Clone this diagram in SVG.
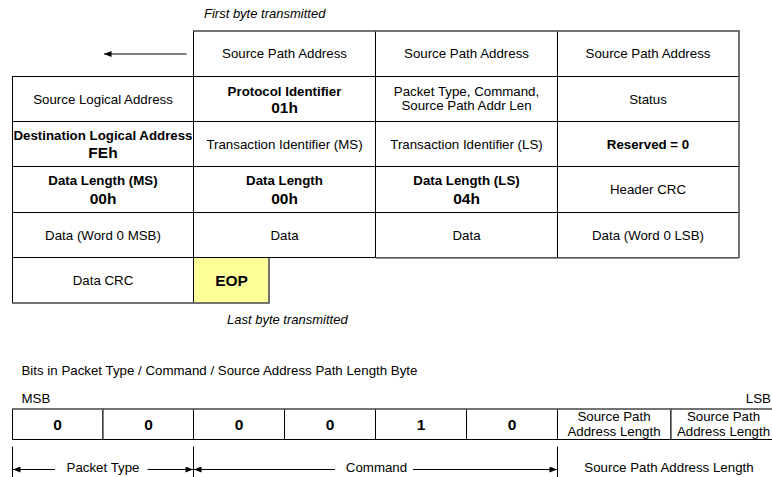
<svg xmlns="http://www.w3.org/2000/svg" width="772" height="477" viewBox="0 0 772 477">
  <style>
    text { font-family: "Liberation Sans", Arial, sans-serif; font-size: 13.3px; fill: #000; }
    .c { text-anchor: middle; }
    .b { font-weight: bold; }
    .big { font-weight: bold; font-size: 15.5px; }
    .it { font-style: italic; font-size: 13px; }
    .cell { fill: #fff; stroke: #000; stroke-width: 1; }
    .edge { fill: none; stroke: #707070; stroke-width: 1.6; }
    .line { fill: none; stroke: #000; stroke-width: 1; }
  </style>
  <defs>
    <marker id="arrow" viewBox="0 0 10 8" refX="10" refY="4" markerWidth="8" markerHeight="6" markerUnits="userSpaceOnUse" orient="auto-start-reverse">
      <path d="M0,0 L10,4 L0,8 Z" fill="#000"/>
    </marker>
  </defs>

  <rect width="772" height="477" fill="#fff"/>

  <text class="it" x="204" y="18">First byte transmitted</text>

  <!-- packet layout: four bytes per row -->
  <g id="r1c2"><rect class="cell" x="193.5" y="31" width="182" height="45.5"/><text class="c" x="284.5" y="58">Source Path Address</text></g>
  <g id="r1c3"><rect class="cell" x="375.5" y="31" width="182" height="45.5"/><text class="c" x="466.5" y="58">Source Path Address</text></g>
  <g id="r1c4"><rect class="cell" x="557.5" y="31" width="181.5" height="45.5"/><text class="c" x="648" y="58">Source Path Address</text></g>

  <g id="r2c1"><rect class="cell" x="12.5" y="76.5" width="181" height="45"/><text class="c" x="103" y="103.5">Source Logical Address</text></g>
  <g id="r2c2"><rect class="cell" x="193.5" y="76.5" width="182" height="45"/><text class="c b" x="284.5" y="96">Protocol Identifier</text><text class="c big" x="284.5" y="113">01h</text></g>
  <g id="r2c3"><rect class="cell" x="375.5" y="76.5" width="182" height="45"/><text class="c" x="466.5" y="96">Packet Type, Command,</text><text class="c" x="466.5" y="109.5">Source Path Addr Len</text></g>
  <g id="r2c4"><rect class="cell" x="557.5" y="76.5" width="181.5" height="45"/><text class="c" x="648" y="103.5">Status</text></g>

  <g id="r3c1"><rect class="cell" x="12.5" y="121.5" width="181" height="45"/><text class="c b" x="103" y="140">Destination Logical Address</text><text class="c big" x="103" y="157.5">FEh</text></g>
  <g id="r3c2"><rect class="cell" x="193.5" y="121.5" width="182" height="45"/><text class="c" x="284.5" y="148.5">Transaction Identifier (MS)</text></g>
  <g id="r3c3"><rect class="cell" x="375.5" y="121.5" width="182" height="45"/><text class="c" x="466.5" y="148.5">Transaction Identifier (LS)</text></g>
  <g id="r3c4"><rect class="cell" x="557.5" y="121.5" width="181.5" height="45"/><text class="c b" x="648" y="148.5">Reserved = 0</text></g>

  <g id="r4c1"><rect class="cell" x="12.5" y="166.5" width="181" height="46"/><text class="c b" x="103" y="185">Data Length (MS)</text><text class="c big" x="103" y="204">00h</text></g>
  <g id="r4c2"><rect class="cell" x="193.5" y="166.5" width="182" height="46"/><text class="c b" x="284.5" y="185">Data Length</text><text class="c big" x="284.5" y="204">00h</text></g>
  <g id="r4c3"><rect class="cell" x="375.5" y="166.5" width="182" height="46"/><text class="c b" x="466.5" y="185">Data Length (LS)</text><text class="c big" x="466.5" y="204">04h</text></g>
  <g id="r4c4"><rect class="cell" x="557.5" y="166.5" width="181.5" height="46"/><text class="c" x="648" y="194">Header CRC</text></g>

  <g id="r5c1"><rect class="cell" x="12.5" y="212.5" width="181" height="45"/><text class="c" x="103" y="239.5">Data (Word 0 MSB)</text></g>
  <g id="r5c2"><rect class="cell" x="193.5" y="212.5" width="182" height="45"/><text class="c" x="284.5" y="239.5">Data</text></g>
  <g id="r5c3"><rect class="cell" x="375.5" y="212.5" width="182" height="45"/><text class="c" x="466.5" y="239.5">Data</text></g>
  <g id="r5c4"><rect class="cell" x="557.5" y="212.5" width="181.5" height="45"/><text class="c" x="648" y="239.5">Data (Word 0 LSB)</text></g>

  <g id="r6c1"><rect class="cell" x="12.5" y="257.5" width="181" height="45.5"/><text class="c" x="103" y="285">Data CRC</text></g>
  <g id="eop"><rect class="cell" x="193.5" y="257.5" width="75.5" height="45.5" style="fill:#ffff99"/><text class="c big" x="231.5" y="286">EOP</text></g>

  <!-- softer outer edges -->
  <path class="edge" d="M193.5,31 H739 V258 M375.5,258 H739 M12.5,303 H269 V258"/>

  <text class="it" x="227" y="324">Last byte transmitted</text>

  <!-- bit breakdown of the packet type / command byte -->
  <text x="21.5" y="375">Bits in Packet Type / Command / Source Address Path Length Byte</text>
  <text x="21.5" y="403">MSB</text>
  <text x="771" y="403" text-anchor="end">LSB</text>

  <g id="bit7"><rect class="cell" x="12.5" y="409" width="90.5" height="30.5"/><text class="c big" x="57.5" y="430">0</text></g>
  <g id="bit6"><rect class="cell" x="103" y="409" width="90.5" height="30.5"/><text class="c big" x="148.5" y="430">0</text></g>
  <g id="bit5"><rect class="cell" x="193.5" y="409" width="91" height="30.5"/><text class="c big" x="239" y="430">0</text></g>
  <g id="bit4"><rect class="cell" x="284.5" y="409" width="91" height="30.5"/><text class="c big" x="330" y="430">0</text></g>
  <g id="bit3"><rect class="cell" x="375.5" y="409" width="91" height="30.5"/><text class="c big" x="421" y="430">1</text></g>
  <g id="bit2"><rect class="cell" x="466.5" y="409" width="91" height="30.5"/><text class="c big" x="512" y="430">0</text></g>
  <g id="bit1"><rect class="cell" x="557.5" y="409" width="113.5" height="30.5"/><text class="c" x="614" y="421">Source Path</text><text class="c" x="614" y="436">Address Length</text></g>
  <g id="bit0"><rect class="cell" x="671" y="409" width="114" height="30.5"/><text class="c" x="723.5" y="421">Source Path</text><text class="c" x="723.5" y="436">Address Length</text></g>
  <path class="edge" d="M12.5,409 H772"/>

  <g id="field-labels">
    <text class="c" x="103" y="472">Packet Type</text>
    <text class="c" x="376.5" y="472">Command</text>
    <text class="c" x="669" y="472">Source Path Address Length</text>
  </g>

  <g id="connectors">
    <!-- transmission direction -->
    <line class="line" x1="186.5" y1="54" x2="104" y2="54" marker-end="url(#arrow)"/>
    <!-- field extent brackets -->
    <line class="line" x1="12.5" y1="446.5" x2="12.5" y2="477"/>
    <line class="line" x1="193.5" y1="446.5" x2="193.5" y2="477"/>
    <line class="line" x1="557.5" y1="446.5" x2="557.5" y2="477"/>
    <line class="line" x1="55" y1="469.5" x2="13" y2="469.5" marker-end="url(#arrow)"/>
    <line class="line" x1="147.5" y1="469.5" x2="193" y2="469.5" marker-end="url(#arrow)"/>
    <line class="line" x1="335" y1="469.5" x2="194" y2="469.5" marker-end="url(#arrow)"/>
    <line class="line" x1="413" y1="469.5" x2="557" y2="469.5" marker-end="url(#arrow)"/>
  </g>
</svg>
